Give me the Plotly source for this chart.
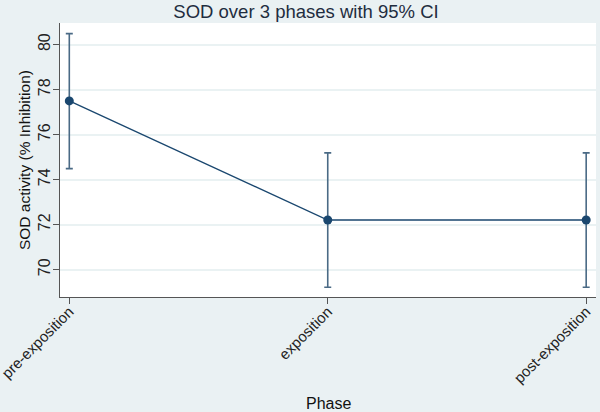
import plotly.graph_objects as go

phases = ["pre-exposition", "exposition", "post-exposition"]
means = [77.5, 72.21, 72.21]
ci_lower = [74.49, 69.22, 69.22]
ci_upper = [80.49, 75.19, 75.19]
y_ticks = [70, 72, 74, 76, 78, 80]

navy = "#1a476f"
bg = "#eaf1f3"
err_plus = [u - m for u, m in zip(ci_upper, means)]
err_minus = [m - l for m, l in zip(means, ci_lower)]

fig = go.Figure()
fig.add_trace(go.Scatter(
    x=list(range(len(phases))), y=means, mode="lines+markers",
    line=dict(color=navy, width=1.3),
    marker=dict(color=navy, size=9),
    error_y=dict(type="data", array=err_plus, arrayminus=err_minus,
                 color="#4a6a85", thickness=1.6, width=3.5),
    showlegend=False,
))

fig.update_layout(
    width=600, height=412,
    margin=dict(l=60, r=4, t=23, b=115, autoexpand=False),
    paper_bgcolor=bg,
    plot_bgcolor="#ffffff",
    font=dict(family="Liberation Sans, Arial, sans-serif", color="#000000", size=15),
    title=dict(text="SOD over 3 phases with 95% CI", x=0.51, xanchor="center",
               y=0.972, yanchor="middle",
               font=dict(size=18.5, color="#1f2d40")),
    annotations=[
        dict(text="Phase", xref="paper", yref="paper", x=0.5, y=-0.387,
             xanchor="center", yanchor="middle", showarrow=False,
             font=dict(size=16, color="#111111")),
        dict(text="SOD activity (% Inhibition)", xref="paper", yref="paper",
             x=-0.067, y=0.5, xanchor="center", yanchor="middle", textangle=-90,
             showarrow=False, font=dict(size=15.5, color="#111111")),
    ],
)
fig.update_xaxes(
    range=[-0.036, 2.038], automargin=False, ticklabeloverflow="allow",
    ticklabelstandoff=-7,
    tickmode="array", tickvals=list(range(len(phases))), ticktext=phases,
    tickangle=-45, ticks="outside", ticklen=6, tickcolor="#555555", tickwidth=1,
    showline=True, linecolor="#555555", linewidth=1.2,
    showgrid=False, zeroline=False,
    tickfont=dict(size=15, color="#222222"),
)
fig.update_yaxes(
    range=[68.79, 80.96], automargin=False, ticklabeloverflow="allow",
    ticklabelstandoff=-3,
    tickmode="array", tickvals=y_ticks,
    tickangle=-90, ticks="outside", ticklen=6, tickcolor="#555555", tickwidth=1,
    showline=True, linecolor="#555555", linewidth=1.2,
    showgrid=True, gridcolor="#eaf2f3", gridwidth=1.5, zeroline=False,
    tickfont=dict(size=16, color="#222222"),
)

fig.write_html(
    "out.html",
    config={"displayModeBar": False},
    post_script="document.body.style.margin='0';document.body.style.background='" + bg + "';",
)
